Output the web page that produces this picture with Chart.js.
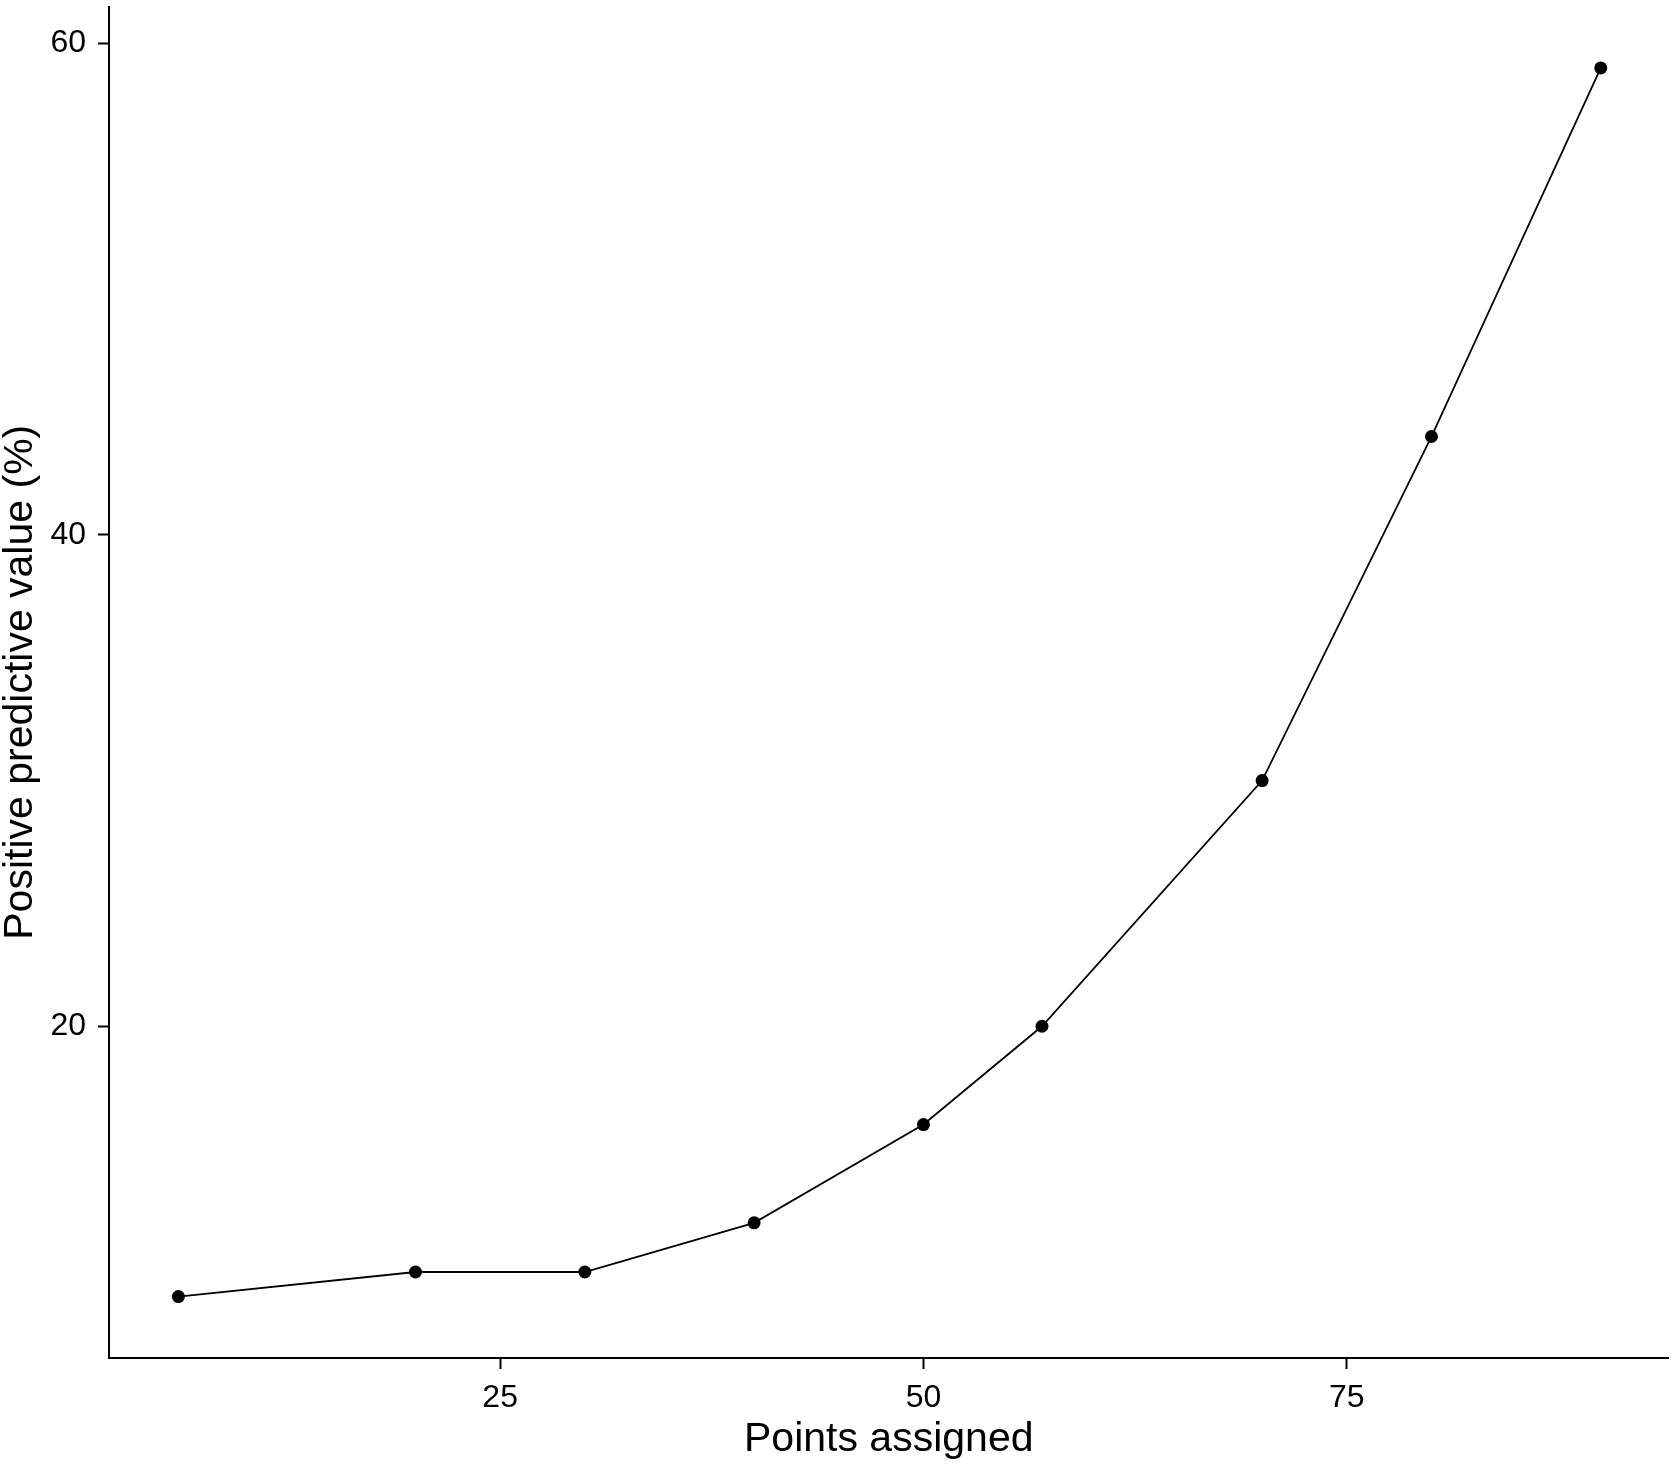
<!DOCTYPE html>
<html>
<head>
<meta charset="utf-8">
<script src="https://cdn.jsdelivr.net/npm/chart.js@4/dist/chart.umd.min.js"></script>
<style>
  html, body { margin: 0; padding: 0; background: #fff; }
  .wrap { width: 1675px; height: 1465px; position: relative; }
</style>
</head>
<body>
<div class="wrap"><canvas id="ppvChart"></canvas></div>
<script>
const pointsAssigned = [6, 20, 30, 40, 50, 57, 70, 80, 90]
const ppv = [9, 10, 10, 12, 16, 20, 30, 44, 59]
const xTicks = [25, 50, 75]
const yTicks = [20, 40, 60]

const FONT = "'Liberation Sans', Arial, Helvetica, sans-serif"
const INK = '#000'

function axisOpts(ticks, min, max, title, tickPad, titlePad, extra) {
  return Object.assign({
    type: 'linear',
    min, max,
    afterBuildTicks: s => { s.ticks = ticks.map(v => ({ value: v })) },
    grid: { display: true, drawOnChartArea: false, drawTicks: true, tickLength: 11, tickWidth: 2, tickColor: INK },
    border: { display: true, color: INK, width: 2 },
    ticks: { color: INK, font: { family: FONT, size: 32 }, padding: tickPad, maxRotation: 0, autoSkip: false },
    title: { display: true, text: title, color: INK, padding: titlePad, font: { family: FONT, size: 41, lineHeight: 1 } },
  }, extra)
}

const data = pointsAssigned.map((x, i) => ({ x, y: ppv[i] }))

new Chart(document.getElementById('ppvChart'), {
  type: 'scatter',
  data: {
    datasets: [{
      data,
      showLine: true,
      borderColor: INK,
      borderWidth: 1.8,
      pointRadius: 6.5,
      pointBackgroundColor: INK,
      pointBorderWidth: 0,
    }],
  },
  options: {
    responsive: true,
    maintainAspectRatio: false,
    animation: false,
    layout: { padding: { top: 4, right: 4, left: 0, bottom: 0 } },
    plugins: { legend: { display: false }, tooltip: { enabled: false } },
    scales: {
      x: axisOpts(xTicks, 1.9, 94.0, 'Points assigned', 10, { top: 0, bottom: 5 }, {
        afterFit: s => { s.height = 107; s.paddingLeft = 0; s.paddingRight = 0 },
      }),
      y: axisOpts(yTicks, 6.5, 61.5, 'Positive predictive value (%)', 12, { top: 0, bottom: 0 }, {
        afterFit: s => { s.width = 109; s.paddingTop = 0; s.paddingBottom = 0 },
      }),
    },
  },
})
</script>
</body>
</html>
